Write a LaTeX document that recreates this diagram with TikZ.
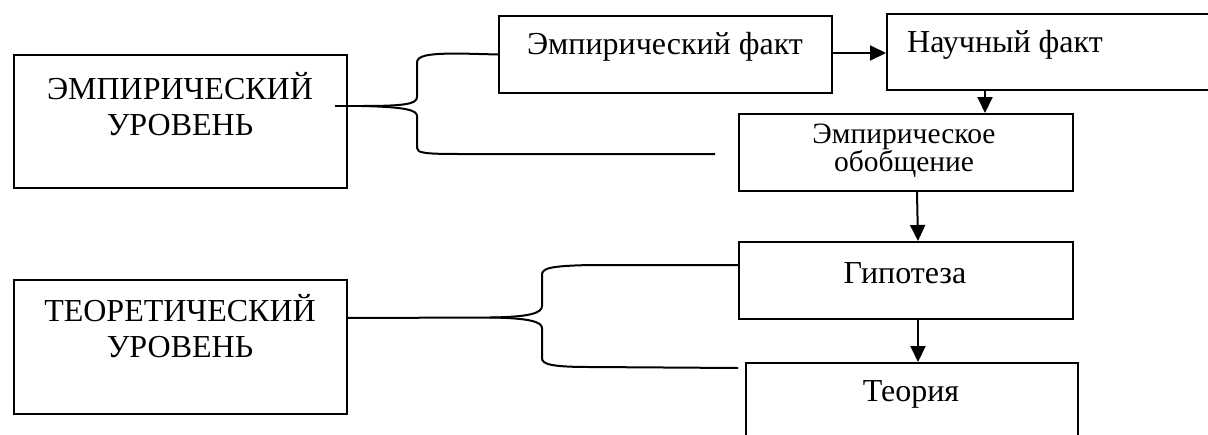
\documentclass[tikz,border=0pt]{standalone}
\usepackage{fontspec}
\setmainfont{Liberation Serif}
\usetikzlibrary{arrows.meta}
\begin{document}
\begin{tikzpicture}[x=1pt,y=-1pt,
  box/.style={draw, line width=2pt, inner sep=0pt, anchor=north west},
  big/.style={font=\fontsize{32}{36}\selectfont, align=center, inner sep=0pt},
  small/.style={font=\fontsize{29.5}{27}\selectfont, align=center, inner sep=0pt},
  conn/.style={line width=2pt},
  arr/.style={line width=2pt, -{Triangle[length=16pt,width=15pt]}}]
\useasboundingbox (0,0) rectangle (1208,434);
\begin{scope}
\clip (0,0) rectangle (1208,434);
% boxes
\node[box, minimum width=333, minimum height=133] (e1) at (13,54) {};
\node[box, minimum width=333, minimum height=77] (ef) at (498,15) {};
\node[box, minimum width=340, minimum height=76] (nf) at (886,13) {};
\node[box, minimum width=334, minimum height=77] (eo) at (738,113) {};
\node[box, minimum width=334, minimum height=77] (gip) at (738,241) {};
\node[box, minimum width=332, minimum height=90] (teo) at (745,362) {};
\node[box, minimum width=333, minimum height=134] (t1) at (13,279) {};
\end{scope}
% texts
\node[big] (e1t) at (180,104) {ЭМПИРИЧЕСКИЙ\\УРОВЕНЬ};
\node[big] (eft) at (665,47) {Эмпирический факт};
\node[big, anchor=west] (nft) at (907,45) {Научный факт};
\node[small] (eot) at (904,151) {Эмпирическое\\обобщение};
\node[big] (gipt) at (905,273) {Гипотеза};
\node[big] (teot) at (911,394) {Теория};
\node[big] (t1t) at (180,326) {ТЕОРЕТИЧЕСКИЙ\\УРОВЕНЬ};
% arrows
\draw[arr] (ef.east |- 0,53) -- (nf.west |- 0,53);
\draw[arr] (985,89) -- (985,113);
\draw[arr] (eo.south -| 917,0) -- (918,241);
\draw[arr] (918,318) -- (918,362);
% upper brace
\coordinate (ua) at (335,106);
\coordinate (ut) at (362,106);
\coordinate (uend) at (715,154);
\draw[conn] (ua) -- (ut);
\draw[conn] (ut) .. controls (405,106) and (417,104) .. (417,97) -- (417,63)
  .. controls (417,56) and (425,53.5) .. (460,53.5) -- (ef.west);
\draw[conn] (ut) .. controls (405,107) and (417,110) .. (417,116) -- (417,148)
  .. controls (417,153) and (425,154) .. (460,154) -- (uend);
% lower brace
\coordinate (la) at (346,318);
\coordinate (lt) at (490,317.5);
\coordinate (lend) at (738,368);
\coordinate (lgip) at (738,265);
\draw[conn] (la) -- (lt);
\draw[conn] (lt) .. controls (530,317) and (542,313) .. (542,306) -- (542,275)
  .. controls (542,268) and (550,266) .. (590,265) -- (lgip);
\draw[conn] (lt) .. controls (530,318) and (542,322) .. (542,328) -- (542,358)
  .. controls (542,364) and (550,367) .. (590,367) -- (lend);
\end{tikzpicture}
\end{document}
